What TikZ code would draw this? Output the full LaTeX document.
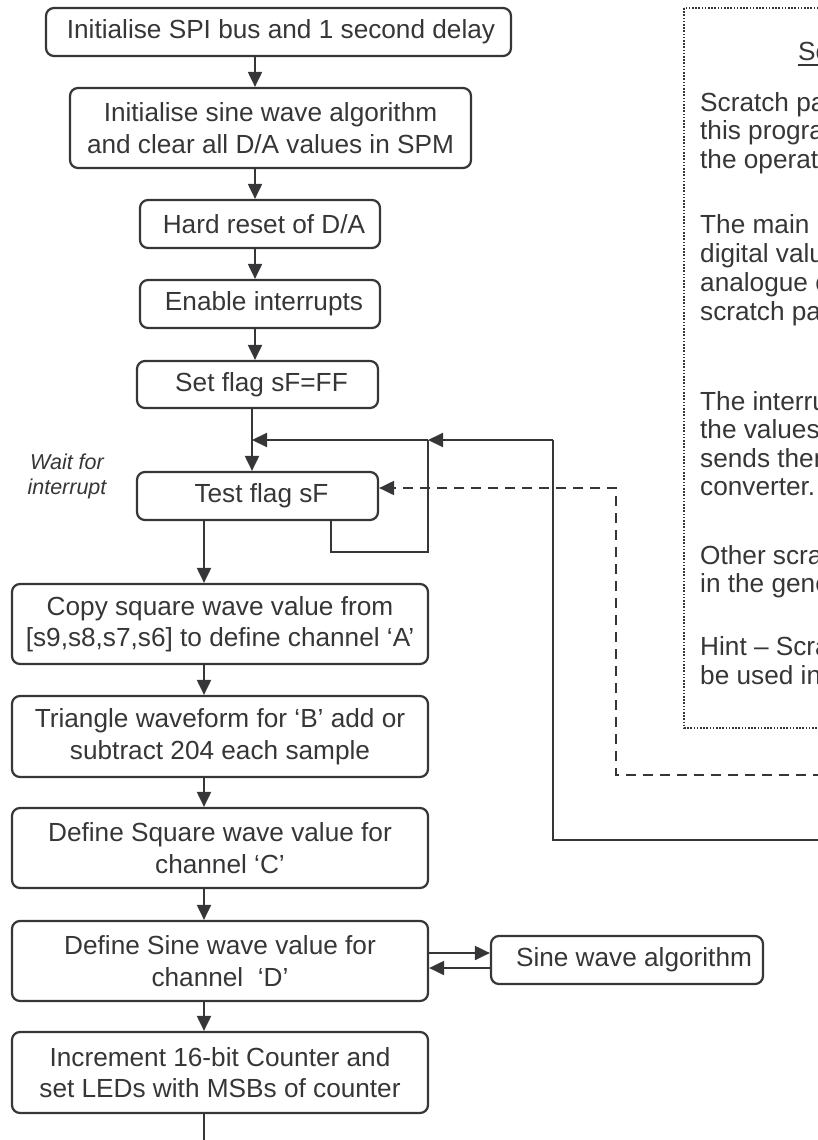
\documentclass[tikz,border=0pt]{standalone}
\usepackage{fontspec}
\setmainfont{Liberation Sans}
\usetikzlibrary{arrows.meta}
\definecolor{ink}{HTML}{363638}
\tikzset{
  box/.style={rectangle,rounded corners=8pt,draw=ink,line width=2.2pt,text=ink,align=center,inner sep=0pt,
    font=\fontsize{26.2pt}{31.5pt}\selectfont},
  wire/.style={draw=ink,line width=2pt},
  arr/.style={wire,-{Triangle[length=15pt,width=14pt]}},
  note/.style={anchor=base west,inner sep=0pt,text=ink,font=\fontsize{26.2pt}{28pt}\selectfont},
}
\begin{document}
\begin{tikzpicture}[x=1pt,y=-1pt]
  \useasboundingbox (0,0) rectangle (818,1140);
  \clip (0,0) rectangle (818,1140);
  % set up
  \node[box,minimum width=465pt,minimum height=48pt] (init) at (278.5,32) {\hspace*{5pt}Initialise SPI bus and 1 second delay};
  \node[box,minimum width=401pt,minimum height=80pt] (setup) at (270.5,128) {Initialise sine wave algorithm\\and clear all D/A values in SPM};
  \node[box,minimum width=240pt,minimum height=48pt] (reset) at (260,224) {\hspace*{8pt}Hard reset of D/A};
  \node[box,minimum width=240pt,minimum height=48pt] (inten) at (260,304) {\hspace*{8pt}Enable interrupts};
  \node[box,minimum width=241pt,minimum height=47pt] (setflag) at (257.5,384.5) {\hspace*{8pt}Set flag sF=FF};
  \node[box,minimum width=241pt,minimum height=48pt] (test) at (257.5,496) {\hspace*{8pt}Test flag sF};
  \node[text=ink,align=center,font=\itshape\fontsize{21.5pt}{25pt}\selectfont] (wait) at (67,476) {Wait for\\interrupt};
  % main loop
  \node[box,minimum width=416pt,minimum height=80pt] (copya) at (220,624) {Copy square wave value from\\{[s9,s8,s7,s6]} to define channel ‘A’};
  \node[box,minimum width=416pt,minimum height=81pt] (trib) at (220,736.5) {Triangle waveform for ‘B’ add or\\subtract 204 each sample};
  \node[box,minimum width=416pt,minimum height=80pt] (sqc) at (220,848) {Define Square wave value for\\channel ‘C’};
  \node[box,minimum width=416pt,minimum height=80pt] (sind) at (220,961) {Define Sine wave value for\\channel\ \ ‘D’};
  \node[box,minimum width=272pt,minimum height=48pt] (sinalg) at (627,960) {\hspace*{14pt}Sine wave algorithm};
  \node[box,minimum width=416pt,minimum height=81pt] (count) at (220,1072.5) {Increment 16-bit Counter and\\set LEDs with MSBs of counter};

  \coordinate (up) at (255,0);
  \coordinate (mid) at (252,0);
  \coordinate (low) at (204,0);
  \draw[arr] (init.south -| up) -- (setup.north -| up);
  \draw[arr] (setup.south -| up) -- (reset.north -| up);
  \draw[arr] (reset.south -| up) -- (inten.north -| up);
  \draw[arr] (inten.south -| up) -- (setflag.north -| up);
  \draw[arr] (setflag.south -| mid) -- (test.north -| mid);
  \draw[arr] (test.south -| low) -- (copya.north -| low);
  \draw[arr] (copya.south -| low) -- (trib.north -| low);
  \draw[arr] (trib.south -| low) -- (sqc.north -| low);
  \draw[arr] (sqc.south -| low) -- (sind.north -| low);
  \draw[arr] (sind.south -| low) -- (count.north -| low);
  \coordinate (out) at (204,1150);
  \draw[wire] (count.south -| low) -- (out);

  % wait loop and return paths
  \coordinate (jl) at (252,440);
  \coordinate (jm) at (428,440);
  \coordinate (jr) at (553,440);
  \coordinate (lb) at (331,552);
  \coordinate (rb) at (840,840);
  \draw[wire] (test.south -| lb) |- (jm |- lb) -- (jm);
  \draw[wire] (rb) -| (jr);
  \draw[arr] (jr) -- (jm);
  \draw[arr] (jm) -- (jl);
  \coordinate (dr) at (840,775);
  \coordinate (dc) at (616,488);
  \draw[arr,dash pattern=on 10pt off 7pt] (dr) -| (dc) -- (test.east |- dc);

  % sine subroutine
  \coordinate (ta) at (0,953);
  \coordinate (tb) at (0,968);
  \draw[arr] (sind.east |- ta) -- (sinalg.west |- ta);
  \draw[arr] (sinalg.west |- tb) -- (sind.east |- tb);

  % notes box
  \draw[ink,line width=1.6pt,dash pattern=on 1.6pt off 1.6pt] (684,8) rectangle (860,728);
  \node[note] (head) at (798,61) {Sc};
  \draw[wire,line width=1.8pt] ([yshift=-4pt]head.base west) -- ([yshift=-4pt]head.base east);
  \foreach \yy/\txt [count=\k] in {111/Scratch pa, 139/this progra, 168/the operat,
      233/The main, 262/digital valu, 291/analogue c, 320/scratch pa,
      410/The interru, 438/the values, 467/sends them, 495/converter.,
      564/Other scra, 592/in the gene, 655/Hint – Scra, 684/be used in}
    \node[note] (ln\k) at (700,\yy) {\txt};
\end{tikzpicture}
\end{document}
